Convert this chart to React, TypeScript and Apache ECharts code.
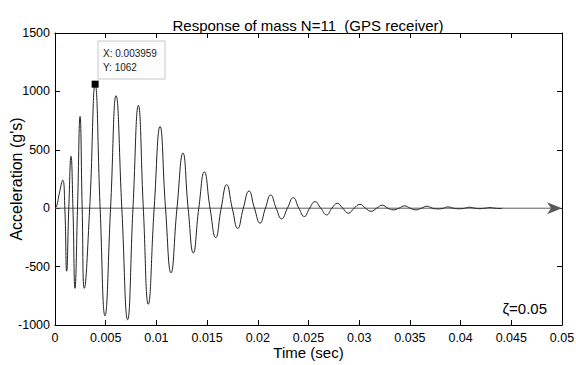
import React, { useEffect, useRef } from "react";
import * as echarts from "echarts";

// Time samples (s): extrema and zero crossings of the trace
const timeSec: number[] = [
  0, 0.00017, 0.00043, 0.00076, 0.00097, 0.00115, 0.00136, 0.00158, 0.00177, 0.00197,
  0.00222, 0.00247, 0.00268, 0.00289, 0.00342, 0.00396, 0.00445, 0.00493, 0.00548, 0.00602,
  0.00659, 0.00716, 0.00769, 0.00822, 0.00871, 0.0092, 0.00978, 0.01036, 0.0109, 0.01144,
  0.01203, 0.01262, 0.01313, 0.01364, 0.01418, 0.01473, 0.01529, 0.01585, 0.01639, 0.01693,
  0.01748, 0.01802, 0.01857, 0.01913, 0.01967, 0.02022, 0.02075, 0.02127, 0.02181, 0.02235,
  0.02292, 0.0235, 0.02405, 0.02459, 0.02511, 0.02564, 0.02621, 0.02679, 0.02731, 0.02784,
  0.02838, 0.02893, 0.0295, 0.03008, 0.03062, 0.03117, 0.03172, 0.03228, 0.03282, 0.03336,
  0.03392, 0.03448, 0.03503, 0.0356, 0.03614, 0.03667, 0.03723, 0.0378, 0.0383, 0.03874,
  0.0393, 0.0399, 0.0404, 0.0409, 0.0414, 0.0419, 0.0424, 0.0429, 0.0434, 0.0439, 0.0441,
];
// Acceleration (g's) at those samples
const accelG: number[] = [
  0, 20, 128, 240, 0, -539, 0, 445, 0, -686,
  0, 785, 0, -686, 0, 1062, 0, -921, 0, 963,
  0, -955, 0, 880, 0, -822, 0, 700, 0, -553,
  0, 472, 0, -383, 0, 311, 0, -252, 0, 201,
  0, -173, 0, 147, 0, -128, 0, 113, 0, -91,
  0, 90, 0, -71, 0, 56, 0, -57, 0, 42,
  0, -43, 0, 33, 0, -26, 0, 26, 0, -14,
  0, 20, 0, -14, 0, 17, 0, -6, 0, 11,
  0, -5, 0, 8, 0, -4, 0, 5, 0, -3, 0,
];

const xTicks = { min: 0, max: 0.05, interval: 0.005 };
const yTicks = { min: -1000, max: 1500, interval: 500 };

const tipX = 0.003959;
const tipY = 1062;
const dampingText = "ζ=0.05";
const titleText = "Response of mass N=11  (GPS receiver)";
const xName = "Time (sec)";
const yName = "Acceleration (g's)";

const FONT = "'Liberation Sans', Arial, Helvetica, sans-serif";

export default function App() {
  const ref = useRef<HTMLDivElement>(null);
  useEffect(() => {
    if (!ref.current) return;
    const chart = echarts.init(ref.current, undefined, { renderer: "svg" });
    const seriesData = timeSec.map((t, i) => [t, accelG[i]]);
    const axisCommon = {
      axisLine: { show: true, onZero: false, lineStyle: { color: "#000", width: 1 } },
      axisTick: { show: true, inside: true, length: 5, lineStyle: { color: "#000" } },
      splitLine: { show: false },
    };
    chart.setOption({
      animation: false,
      backgroundColor: "#fff",
      textStyle: { fontFamily: FONT },
      title: {
        text: titleText,
        left: 303,
        top: 13,
        textAlign: "center",
        textStyle: { fontSize: 15, fontWeight: "normal", color: "#000", fontFamily: FONT },
      },
      grid: {
        left: 55,
        right: 14,
        top: 33,
        bottom: 40,
        containLabel: false,
        outerBoundsMode: "none",
      },
      xAxis: [
        {
          type: "value",
          position: "bottom",
          ...xTicks,
          ...axisCommon,
          axisLabel: { color: "#000", fontSize: 12.5, margin: 6, fontFamily: FONT },
          name: xName,
          nameLocation: "middle",
          nameGap: 20,
          nameMoveOverlap: false,
          nameTextStyle: { color: "#000", fontSize: 15, fontFamily: FONT },
        },
        {
          type: "value",
          position: "top",
          ...xTicks,
          ...axisCommon,
          axisLabel: { show: false },
        },
      ],
      yAxis: [
        {
          type: "value",
          position: "left",
          ...yTicks,
          ...axisCommon,
          axisLabel: {
            color: "#000",
            fontSize: 12.5,
            margin: 5,
            fontFamily: FONT,
            formatter: (v: number) => String(v),
          },
          name: yName,
          nameLocation: "middle",
          nameGap: 31,
          nameRotate: 90,
          nameMoveOverlap: false,
          nameTextStyle: { color: "#000", fontSize: 16, fontFamily: FONT },
        },
        {
          type: "value",
          position: "right",
          ...yTicks,
          ...axisCommon,
          axisLabel: { show: false },
        },
      ],
      series: [
        {
          type: "custom",
          xAxisIndex: 0,
          yAxisIndex: 0,
          data: [[xTicks.min, xTicks.max, 0]],
          z: 1,
          silent: true,
          renderItem: (params: any, api: any) => {
            const s = api.coord([api.value(0), api.value(2)]);
            const e = api.coord([api.value(1), api.value(2)]);
            const col = "#5a5a5a";
            return {
              type: "group",
              children: [
                {
                  type: "line",
                  shape: { x1: s[0], y1: s[1], x2: e[0] - 10, y2: e[1] },
                  style: { stroke: col, lineWidth: 1 },
                },
                {
                  type: "polygon",
                  shape: {
                    points: [
                      [e[0], e[1]],
                      [e[0] - 15, e[1] - 6],
                      [e[0] - 11, e[1]],
                      [e[0] - 15, e[1] + 6],
                    ],
                  },
                  style: { fill: col },
                },
              ],
            };
          },
        },
        {
          type: "line",
          xAxisIndex: 0,
          yAxisIndex: 0,
          data: seriesData,
          showSymbol: false,
          symbol: "none",
          smooth: 0.5,
          z: 2,
          lineStyle: { color: "#222", width: 1 },
          markPoint: {
            symbol: "rect",
            symbolSize: 7,
            itemStyle: { color: "#000" },
            label: { show: false },
            data: [{ coord: [tipX, tipY] }],
          },
        },
      ],
      graphic: [
        {
          type: "rect",
          shape: { x: 98, y: 41, width: 67, height: 38 },
          style: { fill: "#fdfdfd", stroke: "#c8c8c8", lineWidth: 1 },
          z: 10,
        },
        {
          type: "text",
          x: 103,
          y: 53,
          style: {
            text: "X: " + tipX,
            fontSize: 10,
            fontFamily: FONT,
            fill: "#222",
            verticalAlign: "middle",
          },
          z: 11,
        },
        {
          type: "text",
          x: 103,
          y: 67,
          style: {
            text: "Y: " + tipY,
            fontSize: 10,
            fontFamily: FONT,
            fill: "#222",
            verticalAlign: "middle",
          },
          z: 11,
        },
        {
          type: "text",
          x: 547,
          y: 308,
          style: {
            text: dampingText,
            fontSize: 15,
            fontFamily: FONT,
            fill: "#000",
            align: "right",
            verticalAlign: "middle",
          },
          z: 11,
        },
      ],
    });
    return () => chart.dispose();
  }, []);
  return (
    <div
      ref={ref}
      style={{ position: "fixed", left: 0, top: 0, width: 576, height: 365, background: "#fff" }}
    />
  );
}
